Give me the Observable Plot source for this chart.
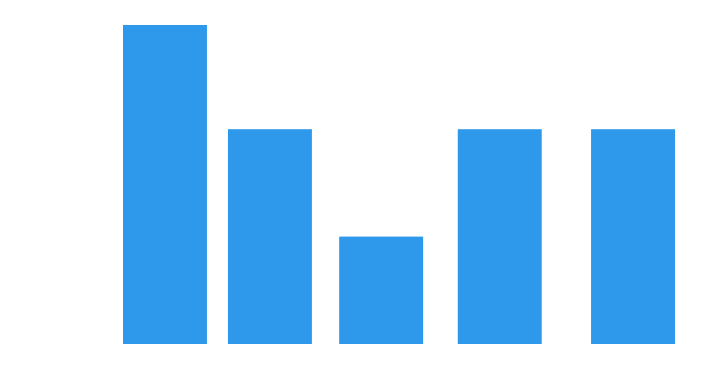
<!DOCTYPE html>
<html>
<head>
<meta charset="utf-8">
<script src="https://cdn.jsdelivr.net/npm/d3@7"></script>
<script src="https://cdn.jsdelivr.net/npm/@observablehq/plot@0.6"></script>
<style>
  html, body { margin: 0; padding: 0; background: #fff; }
  #chart svg { display: block; }
</style>
</head>
<body>
<div id="chart"></div>
<script>
const positions = [1, 2, 3.06, 4.19, 5.46];
const values = [3, 2.02, 1.01, 2.02, 2.02];

const data = positions.map((x, i) => ({x, v: values[i]}));

const chart = Plot.plot({
  width: 711,
  height: 370,
  marginLeft: 123,
  marginRight: 36,
  marginTop: 25,
  marginBottom: 26,
  x: {domain: [0.6, 5.86], axis: null},
  y: {domain: [0, 3], axis: null},
  marks: [
    Plot.rectY(data, {x1: d => d.x - 0.4, x2: d => d.x + 0.4, y: "v", fill: "#2E99EA"})
  ]
});
document.getElementById("chart").appendChild(chart);
</script>
</body>
</html>
